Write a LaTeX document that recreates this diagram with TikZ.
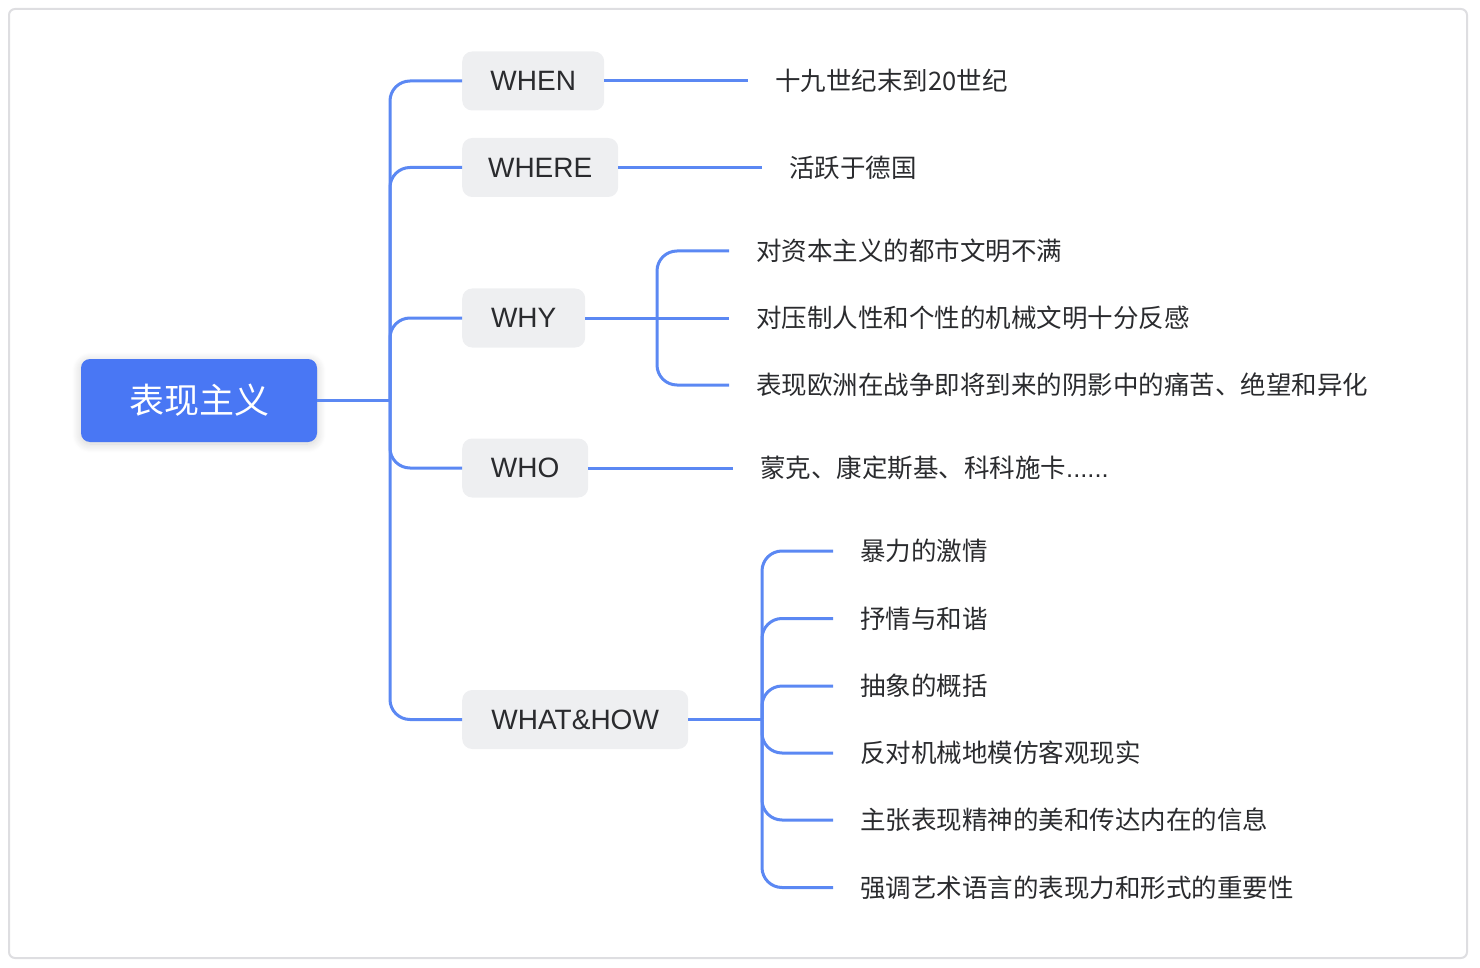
\documentclass[tikz,border=0pt]{standalone}
\usepackage{fontspec}
\setmainfont{Liberation Sans}
\newfontfamily\cjk{Noto Sans CJK SC}
\usetikzlibrary{shadows.blur}
\definecolor{conn}{HTML}{5B88F3}
\definecolor{rootblue}{HTML}{4977F4}
\definecolor{boxgray}{HTML}{EEEFF1}
\definecolor{txt}{HTML}{2A2B2E}
\definecolor{frame}{HTML}{DEDEE1}
\begin{document}
\begin{tikzpicture}[x=1pt,y=-1pt,
  conn/.style={draw=conn,line width=3pt,rounded corners=20pt},
  straight/.style={draw=conn,line width=3pt},
  rootbox/.style={fill=rootblue,rounded corners=9pt,minimum width=236pt,minimum height=83pt,inner sep=0pt,
    text=white,font=\cjk\fontsize{35}{40}\selectfont,
    blur shadow={shadow xshift=0pt,shadow yshift=-2pt,shadow blur radius=9pt,shadow opacity=18,shadow blur steps=10}},
  mid/.style={fill=boxgray,rounded corners=10pt,minimum height=59pt,inner sep=0pt,anchor=west,
    text=txt,font=\fontsize{28}{32}\selectfont},
  leaf/.style={anchor=west,inner xsep=27pt,inner ysep=0pt,text=txt,font=\cjk\fontsize{25.5}{30}\selectfont}]
\useasboundingbox (0,0) rectangle (1480,968);
\draw[frame,line width=2pt,rounded corners=6pt] (9,9) rectangle (1467,958);

% root
\node[rootbox] (root) at (199,400.5) {表现主义};

% middle level
\node[mid,minimum width=142pt] (when) at (462,81) {WHEN};
\node[mid,minimum width=156pt] (where) at (462,167.5) {WHERE};
\node[mid,minimum width=123pt] (why) at (462,318) {WHY};
\node[mid,minimum width=126pt] (who) at (462,468) {WHO};
\node[mid,minimum width=226pt] (what) at (462,719.5) {WHAT\&HOW};

% leaves
\node[leaf] (l1) at (748,81) {十九世纪末到20世纪};
\node[leaf] (l2) at (762,167.5) {活跃于德国};
\node[leaf] (y1) at (729,251) {对资本主义的都市文明不满};
\node[leaf] (y2) at (729,318) {对压制人性和个性的机械文明十分反感};
\node[leaf] (y3) at (729,385) {表现欧洲在战争即将到来的阴影中的痛苦、绝望和异化};
\node[leaf] (o1) at (733,468) {蒙克、康定斯基、科科施卡{\rmfamily ......}};
\node[leaf] (w1) at (833,551) {暴力的激情};
\node[leaf] (w2) at (833,618.5) {抒情与和谐};
\node[leaf] (w3) at (833,686) {抽象的概括};
\node[leaf] (w4) at (833,753) {反对机械地模仿客观现实};
\node[leaf] (w5) at (833,820) {主张表现精神的美和传达内在的信息};
\node[leaf] (w6) at (833,887.5) {强调艺术语言的表现力和形式的重要性};

% trunk points
\coordinate (t0) at (390,400.5);
\coordinate (t1) at (657,318);
\coordinate (t2) at (762,719.5);

% connectors: root
\draw[straight] (root.east) -- (t0);
\foreach \n in {when,where,why,who,what}
  \draw[conn] (t0) |- (\n.west);

% connectors: single leaves
\draw[straight] (when.east) -- (l1.west);
\draw[straight] (where.east) -- (l2.west);
\draw[straight] (who.east) -- (o1.west);

% WHY group
\draw[straight] (why.east) -- (t1) -- (y2.west);
\draw[conn] (t1) |- (y1.west);
\draw[conn] (t1) |- (y3.west);

% WHAT&HOW group
\draw[straight] (what.east) -- (t2);
\foreach \n in {w1,w2,w3,w4,w5,w6}
  \draw[conn] (t2) |- (\n.west);
\end{tikzpicture}
\end{document}
